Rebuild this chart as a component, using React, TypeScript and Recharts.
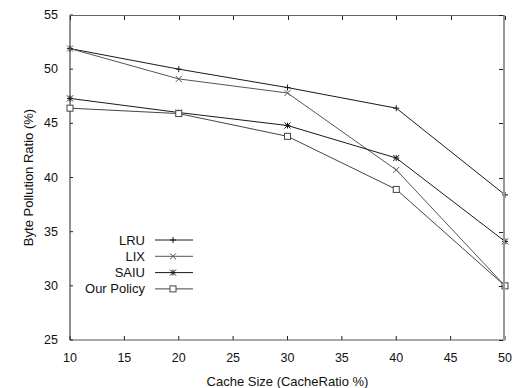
import { LineChart, Line, XAxis, YAxis } from "recharts";

const cacheSizes = [10, 20, 30, 40, 50];
const lruValues = [51.9, 50.0, 48.3, 46.4, 38.4];
const lixValues = [51.9, 49.1, 47.8, 40.7, 30.0];
const saiuValues = [47.3, 46.0, 44.8, 41.8, 34.1];
const ourPolicyValues = [46.4, 45.9, 43.8, 38.9, 30.0];

const xTicks = [10, 15, 20, 25, 30, 35, 40, 45, 50];
const yTicks = [25, 30, 35, 40, 45, 50, 55];

const series = [
  { key: "lru", name: "LRU", shape: "plus", color: "#1a1a1a" },
  { key: "lix", name: "LIX", shape: "cross", color: "#555" },
  { key: "saiu", name: "SAIU", shape: "star", color: "#1a1a1a" },
  { key: "our", name: "Our Policy", shape: "square", color: "#444" },
];

const data = cacheSizes.map((size, i) => ({
  size,
  lru: lruValues[i],
  lix: lixValues[i],
  saiu: saiuValues[i],
  our: ourPolicyValues[i],
}));

const W = 519;
const H = 388;
const PLOT_LEFT = 70;
const PLOT_RIGHT = 505;
const PLOT_TOP = 15;
const PLOT_BOTTOM = 340;
const X_MIN = 10;
const X_MAX = 50;
const Y_MIN = 25;
const Y_MAX = 55;
const FONT = "'Liberation Sans', Arial, sans-serif";
const TEXT = "#111";

function Marker({ shape, cx, cy, color }: any) {
  const s = 3;
  if (shape === "plus")
    return <path d={`M${cx - s},${cy}H${cx + s}M${cx},${cy - s}V${cy + s}`} stroke={color} fill="none" />;
  if (shape === "cross")
    return (
      <path
        d={`M${cx - s},${cy - s}L${cx + s},${cy + s}M${cx - s},${cy + s}L${cx + s},${cy - s}`}
        stroke={color}
        fill="none"
      />
    );
  if (shape === "star")
    return (
      <path
        d={`M${cx - s},${cy}H${cx + s}M${cx},${cy - s}V${cy + s}M${cx - s},${cy - s}L${cx + s},${cy + s}M${cx - s},${cy + s}L${cx + s},${cy - s}`}
        stroke={color}
        fill="none"
      />
    );
  return <rect x={cx - 3} y={cy - 3} width={6} height={6} fill="#fff" stroke={color} />;
}

const BottomTick = ({ x, payload }: any) => (
  <g>
    <line x1={x} x2={x} y1={PLOT_BOTTOM} y2={PLOT_BOTTOM - 4} stroke="#222" />
    <text x={x} y={PLOT_BOTTOM + 22} textAnchor="middle" fontSize={12.5} fontFamily={FONT} fill={TEXT}>
      {payload.value}
    </text>
  </g>
);

const LeftTick = ({ y, payload }: any) => (
  <g>
    <line x1={PLOT_LEFT} x2={PLOT_LEFT + 3} y1={y} y2={y} stroke="#222" />
    <text x={PLOT_LEFT - 12} y={y + 4} textAnchor="end" fontSize={12.5} fontFamily={FONT} fill={TEXT}>
      {payload.value}
    </text>
  </g>
);

function LegendBox() {
  return (
    <svg width={130} height={70} style={{ display: "block" }}>
      {series.map((s, i) => {
        const y = 8 + i * 16.3;
        return (
          <g key={s.key}>
            <text x={62} y={y + 4.5} textAnchor="end" fontSize={13} fontFamily={FONT} fill={TEXT}>
              {s.name}
            </text>
            <line x1={72} x2={110} y1={y} y2={y} stroke={s.color} />
            <Marker shape={s.shape} cx={90} cy={y} color={s.color} />
          </g>
        );
      })}
    </svg>
  );
}

// top and right sides of the plot box, drawn as css borders, with inward ticks
function Frame() {
  const sx = (v: number) => ((v - X_MIN) / (X_MAX - X_MIN)) * (PLOT_RIGHT - PLOT_LEFT);
  const sy = (v: number) => (PLOT_BOTTOM - PLOT_TOP) - ((v - Y_MIN) / (Y_MAX - Y_MIN)) * (PLOT_BOTTOM - PLOT_TOP);
  const boxW = PLOT_RIGHT - PLOT_LEFT;
  const boxH = PLOT_BOTTOM - PLOT_TOP;
  return (
    <div
      style={{
        position: "absolute",
        left: PLOT_LEFT,
        top: PLOT_TOP,
        width: boxW,
        height: boxH,
        boxSizing: "border-box",
        borderTop: "1px solid #666",
        borderRight: "2px solid #999",
        pointerEvents: "none",
        zIndex: 5,
      }}
    >
      {xTicks.map((t) => (
        <div
          key={`tx-${t}`}
          style={{ position: "absolute", left: sx(t), top: 0, width: 1, height: 4, background: "#222" }}
        />
      ))}
      {yTicks.map((t) => (
        <div
          key={`ty-${t}`}
          style={{ position: "absolute", left: boxW - 6, top: sy(t) - 1, width: 4, height: 1, background: "#222" }}
        />
      ))}
    </div>
  );
}

export default function App() {
  return (
    <div style={{ position: "absolute", left: 0, top: 0, width: W, height: H, background: "#fff" }}>
      <LineChart
        width={W}
        height={H}
        data={data}
        margin={{ top: PLOT_TOP, right: W - PLOT_RIGHT, bottom: 0, left: 0 }}
      >
        <XAxis
          dataKey="size"
          type="number"
          domain={[X_MIN, X_MAX]}
          ticks={xTicks}
          height={H - PLOT_BOTTOM}
          axisLine={{ stroke: "#555" }}
          tickLine={false}
          tick={<BottomTick />}
          interval={0}
          label={{
            value: "Cache Size (CacheRatio %)",
            position: "insideBottom",
            offset: 2,
            fontSize: 13,
            fontFamily: FONT,
            fill: TEXT,
          }}
        />
        <YAxis
          type="number"
          domain={[Y_MIN, Y_MAX]}
          ticks={yTicks}
          width={PLOT_LEFT}
          axisLine={{ stroke: "#222" }}
          tickLine={false}
          tick={<LeftTick />}
          interval={0}
          label={{
            value: "Byte Pollution Ratio (%)",
            angle: -90,
            position: "insideLeft",
            offset: 28,
            style: { textAnchor: "middle" },
            fontSize: 13,
            fontFamily: FONT,
            fill: TEXT,
          }}
        />
        {series.map((s) => (
          <Line
            key={s.key}
            dataKey={s.key}
            name={s.name}
            stroke={s.color}
            strokeWidth={1}
            isAnimationActive={false}
            dot={(p: any) => <Marker key={`${s.key}-${p.index}`} shape={s.shape} cx={p.cx} cy={p.cy} color={s.color} />}
            activeDot={false}
          />
        ))}
      </LineChart>
      <Frame />
      <div style={{ position: "absolute", left: 83, top: 232 }}>
        <LegendBox />
      </div>
    </div>
  );
}
